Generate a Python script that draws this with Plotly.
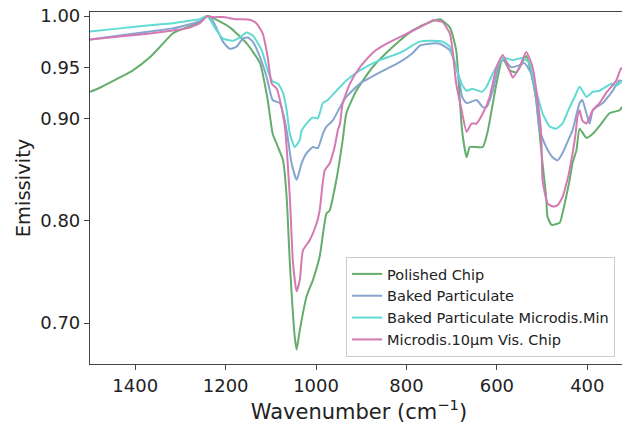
import plotly.graph_objects as go

# ---- data ----
green_x = [1500, 1478, 1434, 1405, 1367, 1345, 1317, 1286, 1257, 1241, 1191, 1153, 1124, 1107, 1096,
           1087, 1073, 1065, 1058, 1047, 1043, 1036, 1021, 1007, 992, 977, 970, 955, 941, 933, 911,
           875, 830, 786, 749, 726, 704, 690, 682, 677, 667, 660, 645, 631, 620, 601, 587, 572, 557,
           535, 524, 513, 499, 491, 488, 479, 461, 455, 447, 439, 433, 424, 417, 402, 388, 369, 351,
           329, 314, 307]
green_y = [0.926, 0.930, 0.940, 0.947, 0.960, 0.970, 0.983, 0.989, 0.994, 1.000, 0.989, 0.973, 0.954,
           0.918, 0.885, 0.875, 0.859, 0.823, 0.759, 0.686, 0.674, 0.693, 0.726, 0.742, 0.765, 0.807,
           0.810, 0.840, 0.879, 0.905, 0.927, 0.950, 0.970, 0.986, 0.994, 0.997, 0.989, 0.9665, 0.918,
           0.888, 0.862, 0.872, 0.872, 0.872, 0.888, 0.934, 0.959, 0.947, 0.945, 0.961, 0.944, 0.918,
           0.856, 0.823, 0.804, 0.796, 0.798, 0.807, 0.823, 0.840, 0.856, 0.869, 0.890, 0.881, 0.885,
           0.895, 0.905, 0.908, 0.915, 0.911]

blue_x = [1500, 1434, 1367, 1317, 1279, 1257, 1241, 1228, 1206, 1191, 1176, 1162, 1151, 1140, 1124,
          1109, 1096, 1080, 1073, 1065, 1054, 1043, 1032, 1021, 1007, 996, 985, 977, 963, 947, 933,
          903, 859, 815, 786, 771, 749, 726, 704, 690, 682, 677, 667, 645, 631, 623, 609, 594, 583,
          568, 550, 539, 524, 513, 506, 491, 477, 466, 455, 439, 433, 417, 411, 402, 395, 388, 380,
          366, 344, 329, 307]
blue_y = [0.977, 0.981, 0.985, 0.988, 0.992, 0.995, 1.000, 0.995, 0.975, 0.968, 0.970, 0.978, 0.979,
          0.975, 0.960, 0.940, 0.918, 0.915, 0.905, 0.888, 0.856, 0.840, 0.856, 0.866, 0.872, 0.871,
          0.885, 0.892, 0.898, 0.911, 0.921, 0.934, 0.945, 0.955, 0.964, 0.971, 0.973, 0.973, 0.9665,
          0.950, 0.934, 0.921, 0.915, 0.918, 0.911, 0.911, 0.927, 0.954, 0.957, 0.950, 0.952, 0.954,
          0.944, 0.918, 0.889, 0.872, 0.862, 0.859, 0.866, 0.882, 0.888, 0.915, 0.918, 0.905, 0.895,
          0.908, 0.911, 0.915, 0.927, 0.937, 0.934]

cyan_x = [1500, 1434, 1367, 1317, 1286, 1257, 1241, 1220, 1206, 1184, 1169, 1154, 1140, 1120, 1107,
          1096, 1084, 1073, 1065, 1058, 1047, 1036, 1032, 1021, 1007, 996, 985, 974, 955, 933, 903,
          859, 815, 771, 749, 720, 704, 690, 678, 667, 654, 634, 623, 609, 594, 583, 565, 543, 528,
          513, 499, 483, 469, 455, 439, 428, 417, 402, 388, 373, 358, 347, 336, 322, 307]
cyan_y = [0.985, 0.988, 0.991, 0.993, 0.995, 0.997, 1.000, 0.986, 0.978, 0.976, 0.979, 0.984, 0.981,
          0.9665, 0.947, 0.936, 0.934, 0.925, 0.908, 0.885, 0.872, 0.879, 0.888, 0.895, 0.901, 0.900,
          0.915, 0.918, 0.927, 0.937, 0.947, 0.957, 0.964, 0.975, 0.976, 0.975, 0.970, 0.950, 0.934,
          0.927, 0.929, 0.926, 0.931, 0.944, 0.955, 0.959, 0.957, 0.959, 0.954, 0.927, 0.905, 0.892,
          0.890, 0.895, 0.911, 0.921, 0.931, 0.921, 0.926, 0.927, 0.931, 0.934, 0.932, 0.936, 0.934]

pink_x = [1500, 1434, 1367, 1317, 1286, 1257, 1241, 1228, 1206, 1176, 1146, 1132, 1118, 1107, 1098,
          1087, 1080, 1069, 1058, 1051, 1043, 1036, 1029, 1014, 999, 992, 981, 970, 959, 952, 947,
          941, 925, 903, 875, 844, 808, 771, 749, 742, 720, 704, 698, 690, 678, 667, 656, 645, 631,
          616, 601, 587, 572, 565, 550, 535, 521, 510, 502, 499, 488, 477, 466, 455, 444, 439, 431,
          426, 422, 417, 411, 402, 388, 373, 358, 336, 325, 314, 307]
pink_y = [0.977, 0.980, 0.983, 0.986, 0.988, 0.993, 1.000, 0.999, 0.999, 0.997, 0.9965, 0.993, 0.983,
          0.960, 0.934, 0.929, 0.918, 0.892, 0.823, 0.759, 0.731, 0.742, 0.771, 0.781, 0.797, 0.810,
          0.849, 0.856, 0.872, 0.888, 0.895, 0.915, 0.934, 0.950, 0.964, 0.973, 0.981, 0.989, 0.994,
          0.996, 0.994, 0.983, 0.9665, 0.934, 0.908, 0.887, 0.895, 0.895, 0.905, 0.921, 0.950, 0.962,
          0.947, 0.940, 0.950, 0.965, 0.950, 0.918, 0.885, 0.840, 0.817, 0.814, 0.815, 0.823, 0.840,
          0.850, 0.870, 0.885, 0.901, 0.908, 0.898, 0.895, 0.908, 0.915, 0.925, 0.937, 0.949, 0.945,
          0.947]

series_names = ["Polished Chip", "Baked Particulate", "Baked Particulate Microdis.Min",
                "Microdis.10µm Vis. Chip"]
series_colors = ["#64ad6c", "#86a4d0", "#62dad4", "#d479b2"]

y_tickvals = [0.70, 0.80, 0.90, 0.95, 1.00]
y_ticktext = ["0.70", "0.80", "0.90", "0.95", "1.00"]
x_tickvals = [1400, 1200, 1000, 800, 600, 400]

FONT = "DejaVu Sans"

fig = go.Figure()
for xs, ys, name, col in zip([green_x, blue_x, cyan_x, pink_x],
                             [green_y, blue_y, cyan_y, pink_y],
                             series_names, series_colors):
    fig.add_trace(go.Scatter(x=xs, y=ys, mode="lines", name=name,
                             line=dict(color=col, width=2, shape="spline", smoothing=0.5)))

# page body has an 8px margin, so the figure is sized/offset to fit the 630x426 window
fig.update_layout(
    width=622, height=418,
    margin=dict(l=82, r=2, t=4, b=62),
    paper_bgcolor="white", plot_bgcolor="white",
    font=dict(family=FONT, color="#222222"),
    showlegend=True,
    legend=dict(x=0.976, y=0.02, xanchor="right", yanchor="bottom",
                bgcolor="rgba(255,255,255,0.85)", bordercolor="#cccccc", borderwidth=1,
                font=dict(family=FONT, size=14.5, color="#222222")),
)
fig.update_xaxes(
    range=[1500, 310], tickvals=x_tickvals, automargin=False,
    showline=True, linecolor="#444444", linewidth=1.2, mirror=True,
    ticks="outside", ticklen=5, tickcolor="#444444", tickwidth=1,
    showgrid=False, zeroline=False, ticklabeloverflow="allow",
    tickfont=dict(family=FONT, size=18, color="#222222"),
    title=dict(text="Wavenumber (cm<sup>−1</sup>)", font=dict(family=FONT, size=21, color="#222222"),
               standoff=4),
)
fig.update_yaxes(
    range=[0.66, 1.004], tickvals=y_tickvals, ticktext=y_ticktext, automargin=False,
    showline=True, linecolor="#444444", linewidth=1.2, mirror=True,
    ticks="outside", ticklen=5, tickcolor="#444444", tickwidth=1,
    showgrid=False, zeroline=False, ticklabeloverflow="allow",
    tickfont=dict(family=FONT, size=18, color="#222222"),
    title=dict(text="Emissivity", font=dict(family=FONT, size=19.5, color="#222222"), standoff=4),
)

fig.write_html("out.html")
